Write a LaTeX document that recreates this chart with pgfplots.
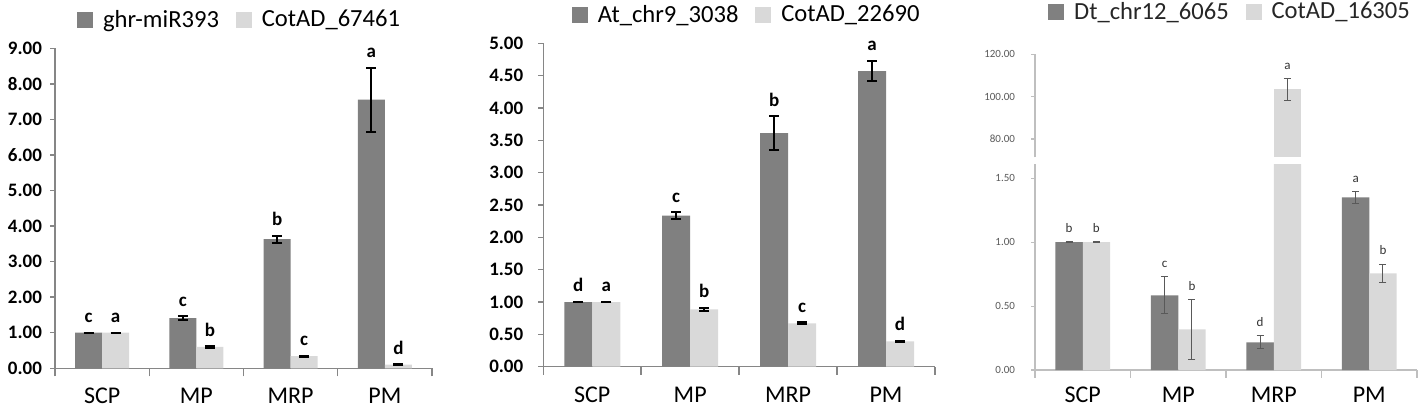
\documentclass[border=0pt]{standalone}
\usepackage{pgfplots}
\pgfplotsset{compat=1.18}
\usepackage{pgfplotstable}
\usepackage{fontspec}
\setmainfont{Carlito}
\definecolor{darkbar}{HTML}{808080}
\definecolor{lightbar}{HTML}{D9D9D9}
\definecolor{axisgray}{HTML}{868686}
\definecolor{axislight}{HTML}{BFBFBF}
\definecolor{textgray}{HTML}{595959}

% Panel 1
\pgfplotstableread{
x y e lab
0 1.00 0.005 c
1 1.41 0.05 c
2 3.63 0.10 b
3 7.56 0.90 a
}\Adark
\pgfplotstableread{
x y e lab
0 1.00 0.005 a
1 0.60 0.015 b
2 0.34 0.015 c
3 0.10 0.015 d
}\Alight
% Panel 2
\pgfplotstableread{
x y e lab
0 1.00 0.005 d
1 2.335 0.05 c
2 3.61 0.26 b
3 4.57 0.16 a
}\Bdark
\pgfplotstableread{
x y e lab
0 1.00 0.005 a
1 0.885 0.02 b
2 0.67 0.015 c
3 0.39 0.01 d
}\Blight
% Panel 3
\pgfplotstableread{
x y e lab
0 1.00 0.003 b
1 0.584 0.145 c
2 0.217 0.05 d
3 1.351 0.046 a
}\Cdark
\pgfplotstableread{
x y e lab
0 1.00 0.003 b
1 0.318 0.235 b
2 103.5 0 {}
3 0.757 0.072 b
}\Clight
\pgfplotstableread{
x y e lab
2 0.217 0 {}
}\Cnone
\pgfplotstableread{
x y e lab
2 103.5 5.2 a
}\Cbig

\pgfplotsset{
  base/.style={
    scale only axis, anchor=south west,
    xmin=-0.5, xmax=3.5,
    axis x line*=bottom, axis y line*=left,
    xtick={0,1,2,3}, xticklabels={SCP,MP,MRP,PM},
    major x tick style={draw=none},
    minor xtick={-0.5,0.5,1.5,2.5,3.5},
    tick align=outside,
    major tick length=2.5pt, minor tick length=4pt,
    xticklabel style={font=\fontsize{12}{14}\selectfont, yshift=-4pt},
    yticklabel style={/pgf/number format/fixed, /pgf/number format/fixed zerofill, /pgf/number format/precision=2, /pgf/number format/assume math mode=true},
    legend columns=2,
    legend style={draw=none, fill=none, inner sep=0pt, anchor=west,
      font=\fontsize{12.3}{14}\selectfont,
      /tikz/every odd column/.append style={column sep=3pt},
      /tikz/every even column/.append style={column sep=6.5pt}},
    clip=true,
  },
  bold12/.style={
    axis line style={axisgray, line width=0.75pt},
    tick style={axisgray, line width=0.75pt},
    yticklabel style={font=\bfseries\fontsize{9.5}{11}\selectfont},
  },
  barA/.style={fill=darkbar, draw=none,
    error bars/y dir=both, error bars/y explicit,
    error bars/error bar style={black, line width=1pt},
    error bars/error mark options={rotate=90, mark size=2.5pt, line width=1pt, black}},
  barB/.style={fill=lightbar, draw=none,
    error bars/y dir=both, error bars/y explicit,
    error bars/error bar style={black, line width=1pt},
    error bars/error mark options={rotate=90, mark size=2.5pt, line width=1pt, black}},
  thinerr/.style={
    error bars/error bar style={textgray, line width=0.5pt},
    error bars/error mark options={rotate=90, mark size=1.75pt, line width=0.5pt, textgray}},
  labs/.style={
    visualization depends on={\thisrow{e} \as \errv},
    point meta=explicit symbolic,
    nodes near coords={\pgfplotspointmeta},
    every node near coord/.append style={shift={(axis direction cs:0,\errv)}, anchor=south, #1},
  },
  legsq/.style={legend image code/.code={\fill[#1] (0pt,-3.75pt) rectangle (7.5pt,3.75pt);}},
}

\begin{document}
\begin{tikzpicture}
\useasboundingbox (0,0) rectangle (709pt,203.5pt);

% ---------- Panel 1 ----------
\begin{axis}[base, bold12, ybar=0pt, bar width=13.5pt,
  at={(27.5pt,19.35pt)}, width=188.5pt, height=160pt,
  ymin=0, ymax=9, ytick={0,1,...,9},
  yticklabel style={xshift=-0.5pt},
  legend style={at={(0.058,1.088)}},
]
\addlegendimage{legsq=darkbar}\addlegendentry{ghr-miR393}
\addlegendimage{legsq=lightbar}\addlegendentry{CotAD\_67461}
\addplot[barA, labs={font=\bfseries\fontsize{9.5}{11}\selectfont, yshift=1.5pt}]
  table[x=x, y=y, y error=e, meta=lab]{\Adark};
\addplot[barB, labs={font=\bfseries\fontsize{9.5}{11}\selectfont, yshift=1.5pt}]
  table[x=x, y=y, y error=e, meta=lab]{\Alight};
\end{axis}

% ---------- Panel 2 ----------
\begin{axis}[base, bold12, ybar=0pt, bar width=14pt,
  at={(271.65pt,20.15pt)}, width=195.85pt, height=161.7pt,
  ymin=0, ymax=5, ytick={0,0.5,...,5},
  yticklabel style={xshift=-4pt},
  legend style={at={(0.0725,1.0875)}},
]
\addlegendimage{legsq=darkbar}\addlegendentry{At\_chr9\_3038}
\addlegendimage{legsq=lightbar}\addlegendentry{CotAD\_22690}
\addplot[barA, labs={font=\bfseries\fontsize{9.5}{11}\selectfont, yshift=1.5pt}]
  table[x=x, y=y, y error=e, meta=lab]{\Bdark};
\addplot[barB, labs={font=\bfseries\fontsize{9.5}{11}\selectfont, yshift=1.5pt}]
  table[x=x, y=y, y error=e, meta=lab]{\Blight};
\end{axis}

% ---------- Panel 3 lower ----------
\begin{axis}[base, ybar=0pt, bar width=13.65pt,
  at={(517.5pt,18.5pt)}, width=191pt, height=103pt,
  ymin=0, ymax=1.612, ytick={0,0.5,1,1.5},
  axis line style={axislight, line width=0.6pt},
  tick style={axislight, line width=0.6pt},
  major tick length=2pt,
  xticklabel style={yshift=1pt},
  yticklabel style={font=\fontsize{5.5}{7}\selectfont, text=textgray, xshift=-4.5pt},
]
\addplot[barA, thinerr,
  labs={font=\fontsize{6.5}{8}\selectfont, text=black!80, yshift=1pt}]
  table[x=x, y=y, y error=e, meta=lab]{\Cdark};
\addplot[barB, thinerr,
  labs={font=\fontsize{6.5}{8}\selectfont, text=black!80, yshift=1pt}]
  table[x=x, y=y, y error=e, meta=lab]{\Clight};
\end{axis}

% ---------- Panel 3 upper ----------
\begin{axis}[base, ybar=0pt, bar width=13.65pt,
  at={(517.5pt,124.85pt)}, width=191pt, height=51.5pt,
  ymin=71.36, ymax=120, ytick={80,100,120},
  axis x line=none,
  axis y line*=left,
  axis line style={axislight, line width=0.6pt},
  tick style={axislight, line width=0.6pt},
  major tick length=2pt,
  yticklabel style={font=\fontsize{5.5}{7}\selectfont, text=textgray, xshift=-4.5pt},
  legend style={at={(0.034,1.411)}, font=\fontsize{12.3}{14}\selectfont\color{black!85}},
]
\addlegendimage{legsq=darkbar}\addlegendentry{Dt\_chr12\_6065}
\addlegendimage{legsq=lightbar}\addlegendentry{CotAD\_16305}
\addplot[fill=none, draw=none] table[x=x, y=y]{\Cnone};
\addplot[barB, thinerr,
  labs={font=\fontsize{6.5}{8}\selectfont, text=black!80, yshift=1pt}]
  table[x=x, y=y, y error=e, meta=lab]{\Cbig};
\end{axis}
\end{tikzpicture}
\end{document}
